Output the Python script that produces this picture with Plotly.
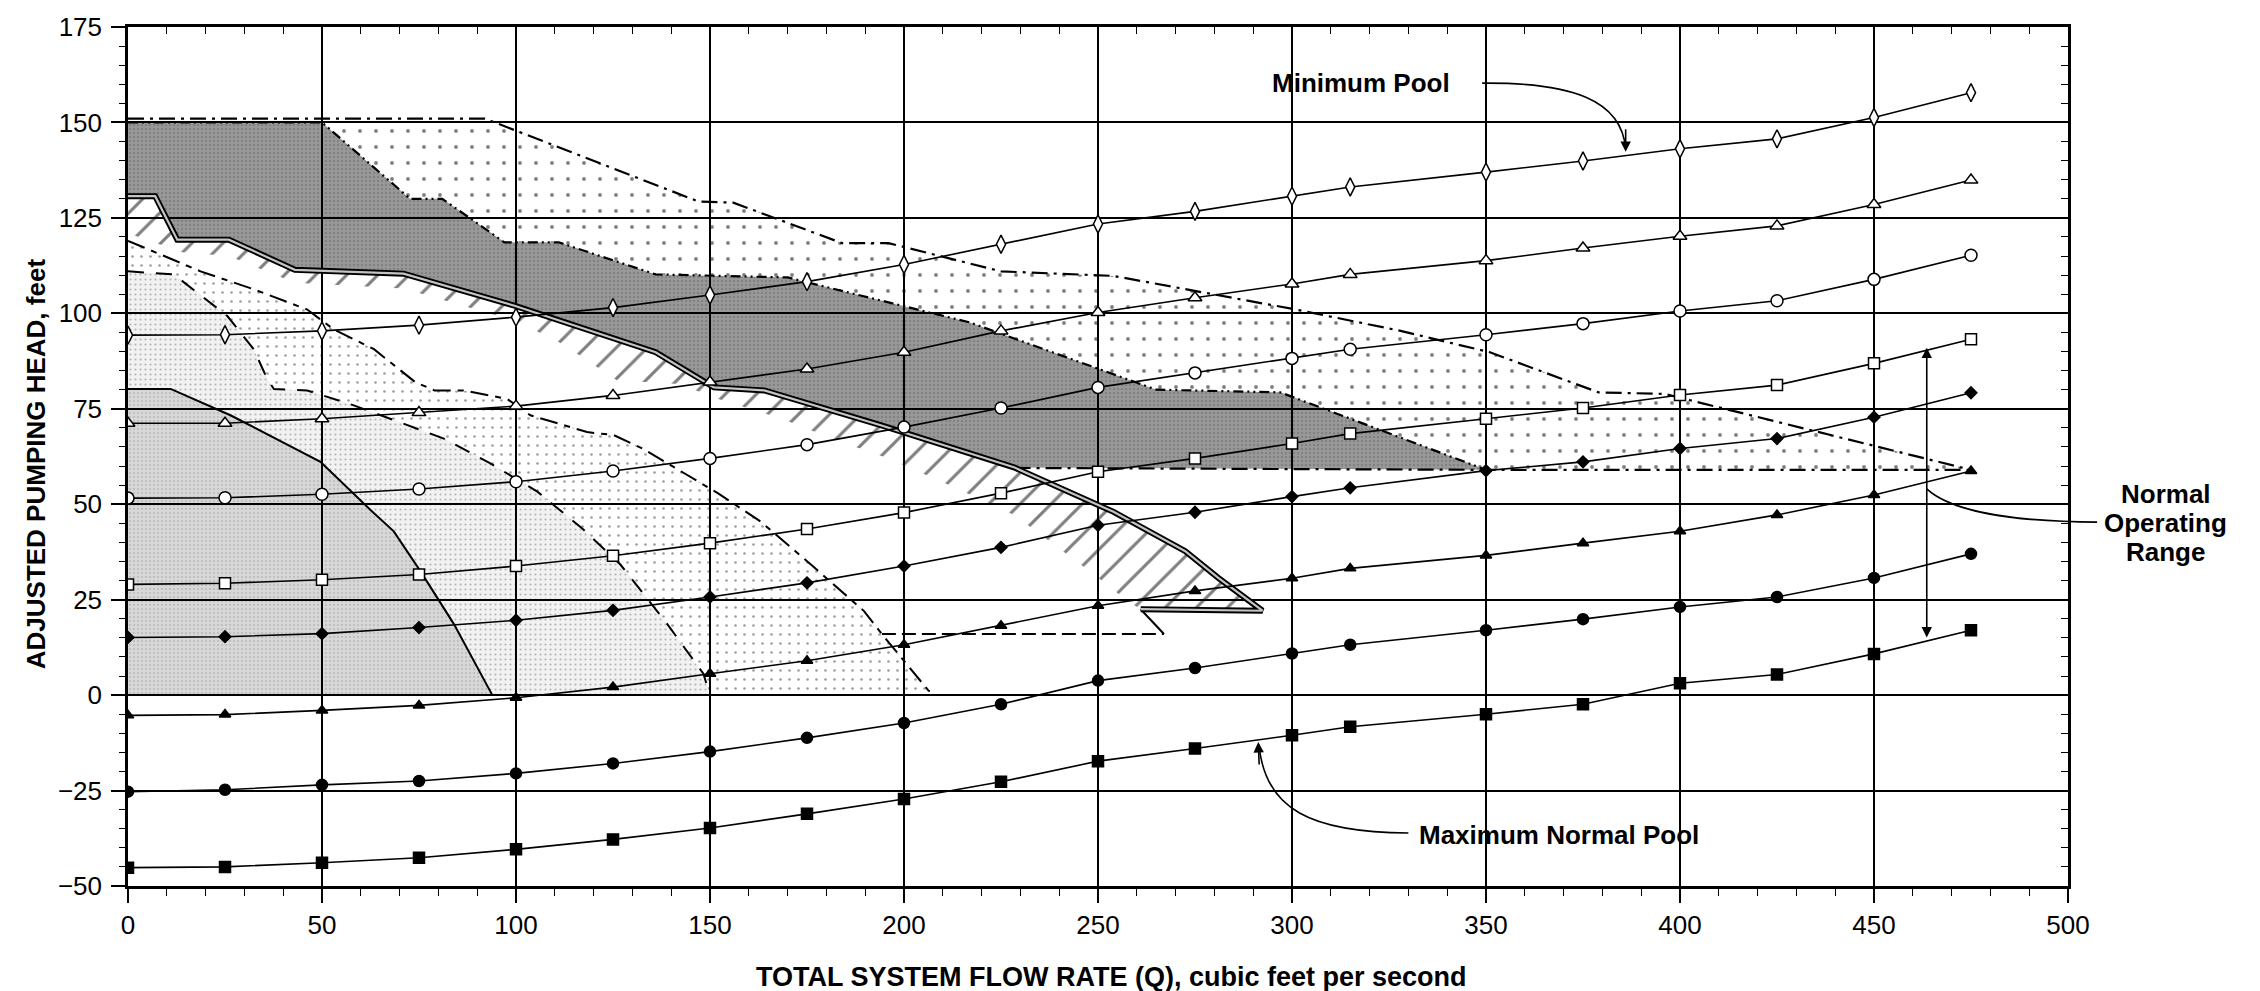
import plotly.graph_objects as go

# ---------------- data ----------------
flow_q = [0, 25, 50, 75, 100, 125, 150, 175, 200, 225, 250, 275, 300, 315, 350, 375, 400, 425, 450, 475]

head_open_diamond = [94.3, 94.4, 95.4, 96.9, 99.0, 101.5, 104.8, 108.3, 112.8, 118.1, 123.4, 126.7, 130.7, 133.1, 137.0, 139.9, 143.1, 145.7, 151.3, 157.8]
head_open_triangle = [71.2, 71.2, 72.4, 74.0, 75.7, 78.5, 82.0, 85.4, 89.8, 95.4, 100.2, 104.1, 107.7, 110.2, 113.8, 117.1, 120.2, 122.9, 128.5, 134.9]
head_open_circle = [51.6, 51.7, 52.6, 54.0, 55.9, 58.7, 62.0, 65.6, 70.2, 75.2, 80.6, 84.4, 88.2, 90.6, 94.4, 97.3, 100.6, 103.3, 108.9, 115.2]
head_open_square = [29.0, 29.3, 30.2, 31.6, 33.8, 36.5, 39.8, 43.5, 47.8, 52.9, 58.5, 62.0, 65.9, 68.5, 72.4, 75.2, 78.6, 81.2, 86.9, 93.2]
head_filled_diamond = [15.1, 15.3, 16.1, 17.7, 19.6, 22.2, 25.7, 29.4, 33.8, 38.7, 44.5, 47.9, 52.0, 54.3, 58.8, 61.1, 64.6, 67.2, 72.8, 79.2]
head_filled_triangle = [-5.3, -5.1, -4.0, -2.7, -0.7, 2.1, 5.6, 9.0, 13.2, 18.2, 23.4, 27.3, 30.6, 33.2, 36.6, 39.8, 42.9, 47.2, 52.4, 58.7]
head_filled_circle = [-25.3, -24.8, -23.5, -22.5, -20.5, -17.9, -14.8, -11.2, -7.3, -2.4, 3.8, 7.1, 10.9, 13.2, 17.0, 19.9, 23.1, 25.7, 30.7, 37.0]
head_filled_square = [-45.2, -45.0, -43.9, -42.6, -40.4, -37.8, -34.8, -31.1, -27.2, -22.7, -17.3, -14.0, -10.5, -8.3, -5.0, -2.4, 3.1, 5.4, 10.8, 17.0]

# zone boundaries (flow, head)
zone_top_q = [0, 92, 147, 156, 184, 196, 225, 254, 301, 328, 351, 379, 396, 475]
zone_top_h = [151, 151, 129.3, 129, 118.4, 118.4, 111, 109.8, 101, 95.4, 89.8, 79.3, 78.9, 59]
dark_top_q = [0, 50, 72.7, 81, 97, 111, 136, 170, 217, 265, 297, 350]
dark_top_h = [150, 150, 130, 130, 118.6, 118.6, 110.2, 109.4, 97.6, 80, 79.3, 59]
floor_q = [228.5, 350, 475]
floor_h = [59.5, 59, 59]
band_top_q = [0, 7, 12.7, 26, 43, 71, 99.6, 136, 151, 164, 194, 228.5, 254, 272.5, 281, 292.4]
band_top_h = [130.7, 130.7, 119.3, 119.3, 111.4, 110.4, 102, 89.8, 80.6, 79.8, 70.7, 59.6, 48, 37.7, 30.7, 22.1]
band_low_q = [0, 14, 26, 43, 71, 100, 112, 126, 142, 152, 168.5, 181.4, 196, 211.8, 228.4, 249, 257.5, 261]
band_low_h = [121, 116, 115, 108, 106.5, 98, 92, 82.5, 81.5, 77.6, 72.4, 67.2, 62, 55, 47.2, 31.6, 24.7, 22.5]
dashdot_q = [0, 18.7, 32.4, 46.2, 53, 63.4, 74, 79, 86.5, 97.7, 103.7, 118.3, 125.2, 132.6, 152, 163, 176, 189.7, 194.3, 206.3, 208]
dashdot_h = [119, 111, 106.3, 101, 95.8, 90.6, 82, 79.8, 79.8, 77.6, 73.3, 68.9, 68.1, 64.6, 52.9, 45.5, 34.2, 22, 16, 1.2, 0]
longdash_q = [0, 11.8, 25.6, 32.4, 35.9, 37.6, 46.2, 58.2, 81.4, 93.4, 105.5, 117, 126.9, 139, 148.3, 150]
longdash_h = [111, 110.2, 99.3, 90.6, 82.8, 80.2, 79.8, 75.9, 67.2, 60.7, 53.3, 43.7, 34.2, 18.6, 5.6, 0]
solid_q = [0, 11, 26.4, 49.6, 62.5, 68.5, 75.4, 84, 93.9]
solid_h = [80.2, 80.2, 73.3, 61.1, 48.5, 42.9, 32.4, 18.6, 0]
shelf_q = [194.3, 267, 261]
shelf_h = [16, 16, 22.5]

x_ticks = list(range(0, 501, 50))
y_ticks = list(range(-50, 176, 25))

# annotation anchors
min_pool_curve = [(349, 160.3), (372, 160.5), (385, 156), (386, 143)]
max_pool_curve = [(330, -36.1), (305, -36), (293, -30), (291.5, -13)]
range_arrow = dict(q=463.6, low=14.7, high=91.0)
range_leader = [(463.6, 54), (470, 48), (485, 45.5), (507.5, 45.3)]

# ---------------- figure ----------------
FONT = "Liberation Sans, Arial, Helvetica, sans-serif"
X0, X1, Y0, Y1 = 0, 500, -50, 175
fig = go.Figure()


def region(xs, ys, pattern):
    fig.add_trace(go.Scatter(x=xs, y=ys, mode="lines", fill="toself",
                             fillcolor="rgba(0,0,0,0)", fillpattern=pattern,
                             line=dict(width=0, color="rgba(0,0,0,0)"),
                             hoverinfo="skip", showlegend=False))


def bline(xs, ys, dash="solid", width=2.0, color="black"):
    fig.add_trace(go.Scatter(x=xs, y=ys, mode="lines",
                             line=dict(color=color, width=width, dash=dash),
                             hoverinfo="skip", showlegend=False))


# R1 light gray under solid curve
region(solid_q + [0], solid_h + [0],
       dict(shape=".", fgcolor="rgba(0,0,0,0.22)", bgcolor="rgba(0,0,0,0.15)", size=4, solidity=0.3))
# R2 fine stipple
region(longdash_q + solid_q[::-1], longdash_h + solid_h[::-1],
       dict(shape=".", fgcolor="rgba(0,0,0,0.5)", bgcolor="rgba(0,0,0,0.05)", size=5, solidity=0.15))
# R3 coarse dots
region(dashdot_q + longdash_q[::-1], dashdot_h + longdash_h[::-1],
       dict(shape=".", fgcolor="rgba(0,0,0,0.75)", bgcolor="rgba(0,0,0,0)", size=9, solidity=0.07))
# R5 hatched band
region(band_top_q + band_low_q[::-1], band_top_h + band_low_h[::-1],
       dict(shape="/", fgcolor="black", bgcolor="rgba(0,0,0,0)", size=22, solidity=0.14))
# R6 dark gray
j = band_top_q.index(228.5)
region(dark_top_q + band_top_q[:j + 1][::-1], dark_top_h + band_top_h[:j + 1][::-1],
       dict(shape=".", fgcolor="rgba(0,0,0,0.3)", bgcolor="rgba(0,0,0,0.40)", size=4, solidity=0.3))
# R7 sparse dots
region(zone_top_q + dark_top_q[::-1], zone_top_h + dark_top_h[::-1],
       dict(shape=".", fgcolor="black", bgcolor="rgba(0,0,0,0)", size=16, solidity=0.045))

# boundary lines
bline(solid_q, solid_h, "solid", 2)
bline(longdash_q, longdash_h, "16px,12px", 2)
bline(dashdot_q, dashdot_h, "18px,7px,6px,7px", 2)
bline(shelf_q[:2], shelf_h[:2], "14px,6px", 2)
bline(shelf_q[1:], shelf_h[1:], "solid", 2)
bline(zone_top_q, zone_top_h, "16px,6px,3px,6px", 2.2)
bline(floor_q, floor_h, "16px,6px,3px,6px", 2.2)
bline(dark_top_q, dark_top_h, "10px,4px,2px,4px,2px,4px", 2.2)
dbl_q = band_top_q + [shelf_q[2]]
dbl_h = band_top_h + [shelf_h[2]]
bline(dbl_q, dbl_h, "solid", 6, "black")
bline(dbl_q, dbl_h, "solid", 2.2, "#c4c4c4")

# pump curves
series = [
    (head_open_diamond, "diamond-tall", 13, "white"),
    (head_open_triangle, "triangle-up", 12, "white"),
    (head_open_circle, "circle", 12, "white"),
    (head_open_square, "square", 11, "white"),
    (head_filled_diamond, "diamond", 9, "black"),
    (head_filled_triangle, "triangle-up", 10, "black"),
    (head_filled_circle, "circle", 11, "black"),
    (head_filled_square, "square", 11, "black"),
]
for ys, sym, sz, col in series:
    fig.add_trace(go.Scatter(x=flow_q, y=ys, mode="lines+markers",
                             line=dict(color="black", width=1.6),
                             marker=dict(symbol=sym, size=sz, color=col,
                                         line=dict(color="black", width=1.5)),
                             hoverinfo="skip", showlegend=False))

# dummy trace for the top / right tick axes
fig.add_trace(go.Scatter(x=[None], y=[None], xaxis="x2", yaxis="y2", showlegend=False, hoverinfo="skip"))


def cpath(pts):
    (a, b), (c, d), (e, f), (g, h) = pts
    return f"M {a},{b} C {c},{d} {e},{f} {g},{h}"


def to_paper(pts):
    return [((q - X0) / (X1 - X0), (h - Y0) / (Y1 - Y0)) for q, h in pts]


shapes = [
    dict(type="path", xref="x", yref="y", path=cpath(min_pool_curve), line=dict(color="black", width=1.6)),
    dict(type="path", xref="x", yref="y", path=cpath(max_pool_curve), line=dict(color="black", width=1.6)),
    dict(type="path", xref="paper", yref="paper", path=cpath(to_paper(range_leader)), line=dict(color="black", width=1.6)),
]

bold = dict(family=FONT, size=26, color="black")
annotations = [
    dict(x=min_pool_curve[-1][0], y=min_pool_curve[-1][1] - 0.7, ax=0, ay=-24, text="", showarrow=True,
         arrowhead=2, arrowsize=1.3, arrowwidth=1.6, arrowcolor="black", standoff=0),
    dict(x=max_pool_curve[-1][0] - 0.2, y=max_pool_curve[-1][1] + 0.7, ax=1, ay=24, text="", showarrow=True,
         arrowhead=2, arrowsize=1.3, arrowwidth=1.6, arrowcolor="black", standoff=0),
    dict(x=range_arrow["q"], y=range_arrow["high"], ax=range_arrow["q"], ay=range_arrow["low"],
         axref="x", ayref="y", text="", showarrow=True, arrowside="end+start",
         arrowhead=2, arrowsize=1.3, arrowwidth=1.6, arrowcolor="black", standoff=0, startstandoff=0),
    dict(x=294.2, y=160.4, xanchor="left", yanchor="middle", text="<b>Minimum Pool</b>", showarrow=False, font=bold),
    dict(x=332.1, y=-36.7, xanchor="left", yanchor="middle", text="<b>Maximum Normal Pool</b>", showarrow=False, font=bold),
    dict(xref="paper", yref="paper", x=1.0503, y=0.456, text="<b>Normal</b>", showarrow=False, font=bold,
         xanchor="center", yanchor="middle"),
    dict(xref="paper", yref="paper", x=1.0503, y=0.4225, text="<b>Operating</b>", showarrow=False, font=bold,
         xanchor="center", yanchor="middle"),
    dict(xref="paper", yref="paper", x=1.0503, y=0.3889, text="<b>Range</b>", showarrow=False, font=bold,
         xanchor="center", yanchor="middle"),
    dict(xref="paper", yref="paper", x=0.507, y=0, yshift=-91, xanchor="center", yanchor="middle",
         text="<b>TOTAL SYSTEM FLOW RATE (Q), cubic feet per second</b>", showarrow=False,
         font=dict(family=FONT, size=27, color="black")),
    dict(xref="paper", yref="paper", x=0, xshift=-92, y=0.491, xanchor="center", yanchor="middle",
         textangle=-90, text="<b>ADJUSTED PUMPING HEAD, feet</b>", showarrow=False, font=bold),
]

axis_common = dict(showline=True, linecolor="black", linewidth=2.5, mirror=True,
                   showgrid=True, gridcolor="black", gridwidth=1.6, zeroline=False,
                   ticks="outside", ticklen=14, tickwidth=1.6, tickcolor="black",
                   tickfont=dict(family=FONT, size=26, color="black"))

fig.update_layout(
    width=2260, height=991,
    margin=dict(l=128, r=192, t=22, b=105),
    paper_bgcolor="white", plot_bgcolor="white",
    showlegend=False,
    shapes=shapes, annotations=annotations,
    xaxis=dict(range=[X0, X1], tickvals=x_ticks, ticktext=[str(v) for v in x_ticks],
               minor=dict(dtick=10, tick0=0, ticks="outside", ticklen=7, tickwidth=1.3, tickcolor="black", showgrid=False),
               **axis_common),
    yaxis=dict(range=[Y0, Y1], tickvals=y_ticks, ticktext=[str(v) if v >= 0 else "\u2212" + str(-v) for v in y_ticks],
               minor=dict(dtick=5, tick0=0, ticks="outside", ticklen=6, tickwidth=1.3, tickcolor="black", showgrid=False),
               ticklabelstandoff=4, **axis_common),
    xaxis2=dict(range=[X0, X1], overlaying="x", side="top", anchor="y2", ticks="inside", dtick=10, tick0=0,
                ticklen=7, tickwidth=1.3, tickcolor="black", showticklabels=False, showgrid=False,
                showline=False, zeroline=False),
    yaxis2=dict(range=[Y0, Y1], overlaying="y", side="right", anchor="x2", ticks="inside", dtick=5, tick0=0,
                ticklen=7, tickwidth=1.3, tickcolor="black", showticklabels=False, showgrid=False,
                showline=False, zeroline=False),
)

fig.write_html("out.html")
